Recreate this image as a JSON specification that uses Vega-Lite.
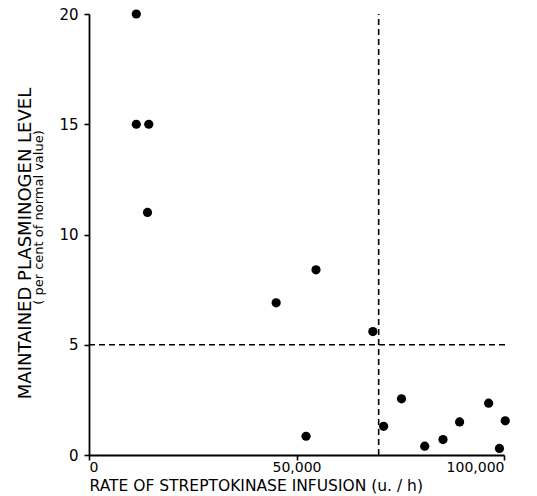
{
  "$schema": "https://vega.github.io/schema/vega-lite/v6.json",
  "width": 415,
  "height": 441,
  "autosize": "none",
  "padding": {"left": 89, "top": 14, "right": 33, "bottom": 41},
  "background": "white",
  "config": {
    "view": {"stroke": null},
    "font": "DejaVu Sans",
    "axis": {
      "grid": false,
      "domainColor": "black",
      "tickColor": "black",
      "labelColor": "black",
      "titleColor": "black",
      "domainWidth": 1.8,
      "tickWidth": 1.6,
      "tickSize": 5,
      "labelFont": "DejaVu Sans",
      "titleFont": "DejaVu Sans",
      "labelFontSize": 15,
      "titleFontWeight": "normal"
    }
  },
  "resolve": {"axis": {"y": "independent"}},
  "layer": [
    {
      "data": {"values": [
        {"x": 0, "x2": 100400, "y": 5, "y2": 5},
        {"x": 69800, "x2": 69800, "y": 0, "y2": 20}
      ]},
      "mark": {"type": "rule", "strokeDash": [6, 4], "strokeWidth": 1.6, "color": "black"},
      "encoding": {
        "x": {"field": "x", "type": "quantitative", "scale": {"domain": [0, 100000], "nice": false},
          "axis": {"values": [0, 50000, 100000], "labelExpr": "format(datum.value, ',')", "labelPadding": 0,
            "labelFontSize": 14,
            "title": "RATE OF STREPTOKINASE INFUSION (u. / h)", "titleFontSize": 15.5,
            "titleX": 0, "titleY": 35, "titleAlign": "left", "titleBaseline": "alphabetic"}},
        "x2": {"field": "x2"},
        "y": {"field": "y", "type": "quantitative", "scale": {"domain": [0, 20], "nice": false},
          "axis": {"orient": "left", "domain": false, "ticks": false, "labels": false,
            "title": "MAINTAINED PLASMINOGEN LEVEL", "titleFontSize": 18,
            "titleX": -55, "titleY": 229, "titleBaseline": "bottom"}},
        "y2": {"field": "y2"}
      }
    },
    {
      "data": {"values": [
        {"rate": 11400, "level": 20},
        {"rate": 11400, "level": 15},
        {"rate": 14400, "level": 15},
        {"rate": 14100, "level": 11},
        {"rate": 45100, "level": 6.9},
        {"rate": 54700, "level": 8.4},
        {"rate": 68400, "level": 5.6},
        {"rate": 52300, "level": 0.85},
        {"rate": 71000, "level": 1.3},
        {"rate": 75300, "level": 2.55},
        {"rate": 80900, "level": 0.4},
        {"rate": 85300, "level": 0.7},
        {"rate": 89300, "level": 1.5},
        {"rate": 96300, "level": 2.35},
        {"rate": 98900, "level": 0.3},
        {"rate": 100300, "level": 1.55}
      ]},
      "mark": {"type": "point", "filled": true, "shape": "circle", "size": 85, "color": "black", "opacity": 1},
      "encoding": {
        "x": {"field": "rate", "type": "quantitative",
          "axis": {"values": [0, 50000, 100000], "labelExpr": "format(datum.value, ',')", "labelPadding": 0,
            "labelFontSize": 14,
            "title": "RATE OF STREPTOKINASE INFUSION (u. / h)", "titleFontSize": 15.5,
            "titleX": 0, "titleY": 35, "titleAlign": "left", "titleBaseline": "alphabetic"}},
        "y": {"field": "level", "type": "quantitative",
          "axis": {"orient": "left", "values": [0, 5, 10, 15, 20], "labelPadding": 6,
            "labelBaseline": "middle",
            "title": "( per cent of normal value)", "titleFontSize": 13,
            "titleX": -44, "titleY": 203, "titleBaseline": "bottom"}}
      }
    }
  ]
}
